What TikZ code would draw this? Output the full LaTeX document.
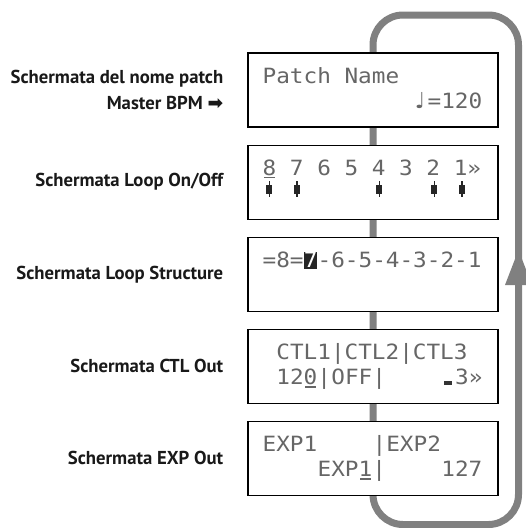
\documentclass[tikz,border=0pt]{standalone}
\usepackage{fontspec}
\setmainfont{PT Sans}
\newfontfamily\lcdfont[FakeStretch=1.08]{DejaVu Sans Mono}
\newfontfamily\symfont{DejaVu Sans}
\usetikzlibrary{positioning,calc}
\definecolor{loopgray}{gray}{0.5}
\definecolor{lcdgray}{gray}{0.4}
\newcommand{\pitch}{13.75}

\begin{document}
\begin{tikzpicture}[x=1pt, y=-1pt, node distance=17pt]
  \tikzstyle{screen} = [draw=black, line width=1.1pt, fill=white, minimum width=250pt, minimum height=74pt, inner sep=0pt]
  \tikzstyle{caption} = [font=\bfseries\fontsize{18.7}{26}\selectfont, text=black!90, align=right, inner sep=0pt]
  \tikzstyle{dots} = [font=\lcdfont\fontsize{21}{25}\selectfont, text=lcdgray, anchor=base west, inner sep=0pt]
  \tikzstyle{cursor} = [fill=lcdgray, minimum width=11pt, minimum height=1.6pt, inner sep=0pt]
  \tikzstyle{switch} = [fill=black!85, minimum width=6pt, minimum height=9pt, inner sep=0pt]
  \useasboundingbox (0,0) rectangle (526,528);
  \draw[loopgray, line width=7pt, rounded corners=30pt] (373,15) rectangle (518.5,524.5);
  \coordinate (tip) at (518.5,250);
  \fill[loopgray] (tip) -- ++(13.5,35) -- ++(-27,0) -- cycle;

  \node[screen] (pname) at (373,90) {};
  \node[screen, below=of pname] (onoff) {};
  \node[screen, below=of onoff] (struct) {};
  \node[screen, below=of struct] (ctl) {};
  \node[screen, below=of ctl] (exp) {};

  \node[caption, left=24pt of pname] (pname-cap) {Schermata del nome patch\\Master BPM {\symfont ➡}};
  \node[caption, left=24pt of onoff] (onoff-cap) {Schermata Loop On/Off};
  \node[caption, left=24pt of struct] (struct-cap) {Schermata Loop Structure};
  \node[caption, left=24pt of ctl] (ctl-cap) {Schermata CTL Out};
  \node[caption, left=24pt of exp] (exp-cap) {Schermata EXP Out};

  \foreach \s in {pname,onoff,struct,ctl,exp} {
    \coordinate (\s-1) at ($(\s.north west)+(15,31)$);
    \coordinate (\s-2) at ($(\s.north west)+(15,56)$);
  }

  \node[dots] (pname-t1) at (pname-1) {Patch Name};
  \node[dots] (pname-t2) at ($(pname-2)+({12*\pitch},0)$) {=120};
  \node[dots, font=\symfont\fontsize{22}{22}\selectfont] (pname-note) at ($(pname-2)+({11*\pitch+1},0)$) {♩};

  \node[dots] (onoff-t1) at (onoff-1) {8 7 6 5 4 3 2 1»};
  \node[cursor] (onoff-cur) at ($(onoff-1)+({0.5*\pitch},2)$) {};
  \foreach \i in {0,2,8,12,14} {
    \node[switch] (sw\i) at ($(onoff-1)+({(\i+0.5)*\pitch},13.5)$) {};
    \draw[black!85, line width=1.5pt] ([yshift=3pt]sw\i.north) -- ([yshift=-3pt]sw\i.south);
  }

  \node[dots] (struct-t1) at (struct-1) {=8=};
  \node[fill=black!85, text=white, font=\lcdfont\fontsize{21}{25}\selectfont, minimum width=12pt, minimum height=17pt, inner sep=0pt] (struct-cur) at ($(struct-1)+({3.5*\pitch},-7.5)$) {7};
  \node[dots] (struct-t2) at ($(struct-1)+({4*\pitch},0)$) {-6-5-4-3-2-1};

  \node[dots] (ctl-t1) at ($(ctl-1)+({1*\pitch},0)$) {CTL1|CTL2|CTL3};
  \node[dots] (ctl-t2) at ($(ctl-2)+({1*\pitch},0)$) {120|};
  \node[cursor] (ctl-cur) at ($(ctl-2)+({3.5*\pitch},2)$) {};
  \node[dots] (ctl-t3) at ($(ctl-2)+({5*\pitch},0)$) {OFF|};
  \node[fill=black!80, minimum width=8pt, minimum height=4pt, inner sep=0pt] (ctl-sym) at ($(ctl-2)+({13.5*\pitch},-2)$) {};
  \node[dots] (ctl-t4) at ($(ctl-2)+({14*\pitch},0)$) {3»};

  \node[dots] (exp-t1) at (exp-1) {EXP1};
  \node[dots] (exp-t2) at ($(exp-1)+({8*\pitch},0)$) {|EXP2};
  \node[dots] (exp-t3) at ($(exp-2)+({4*\pitch},0)$) {EXP1|};
  \node[cursor] (exp-cur) at ($(exp-2)+({7.5*\pitch},2)$) {};
  \node[dots] (exp-t4) at ($(exp-2)+({13*\pitch},0)$) {127};
\end{tikzpicture}
\end{document}
